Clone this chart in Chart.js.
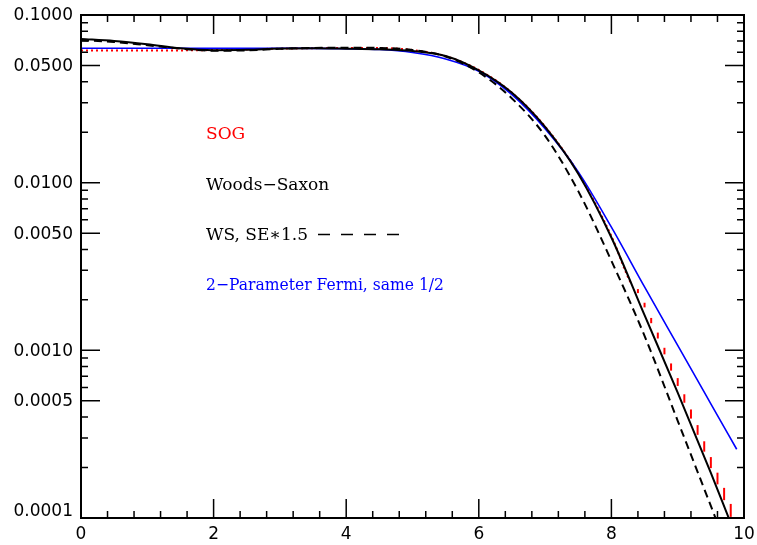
<!DOCTYPE html>
<html>
<head>
<meta charset="utf-8">
<script src="https://cdn.jsdelivr.net/npm/chart.js@4.4.0/dist/chart.umd.min.js"></script>
<style>
  body { margin: 0; background: #fff; }
</style>
</head>
<body>
<canvas id="chart" width="757" height="545"></canvas>
<script>
// axis ticks
const xTicks = [0, 2, 4, 6, 8, 10];
const yTicks = [0.1, 0.05, 0.01, 0.005, 0.001, 0.0005, 0.0001];
const yTickLabels = ["0.1000", "0.0500", "0.0100", "0.0050", "0.0010", "0.0005", "0.0001"];

// Woods-Saxon (solid black)
const wsX = [0, 0.5, 1, 1.5, 2, 2.5, 3, 3.5, 4, 4.5, 5, 5.5, 6, 6.5, 7, 7.5, 8, 8.5, 9, 9.5, 9.77];
const wsY = [0.0720, 0.0700, 0.0669, 0.0633, 0.0617, 0.0620, 0.0632, 0.0634, 0.0630, 0.0624, 0.0610, 0.0570, 0.0468, 0.0344, 0.0215, 0.0113, 0.00471, 0.00162, 0.00056, 0.000186, 0.0001];

// WS, SE*1.5 (dashed black)
const wsSeX = [0, 0.5, 1, 1.5, 2, 2.5, 3, 3.5, 4, 4.5, 5, 5.5, 6, 6.5, 7, 7.5, 8, 8.5, 9, 9.5, 9.57];
const wsSeY = [0.0707, 0.0690, 0.0660, 0.0630, 0.0612, 0.0615, 0.0628, 0.0636, 0.0638, 0.0636, 0.0618, 0.0565, 0.0455, 0.0318, 0.0190, 0.0089, 0.00342, 0.00122, 0.00038, 0.000118, 0.0001];

// 2-Parameter Fermi (blue)
const fermiX = [0, 1, 2, 3, 3.5, 4, 4.5, 5, 5.5, 6, 6.5, 7, 7.5, 8, 8.5, 9, 9.5, 9.89];
const fermiY = [0.0634, 0.0634, 0.0634, 0.0633, 0.0632, 0.0629, 0.0622, 0.0597, 0.0547, 0.0462, 0.0335, 0.0210, 0.0116, 0.00543, 0.00239, 0.00107, 0.00048, 0.000257];

// SOG (red dotted, sampled every 0.1 in the tail)
const sogX = [0, 1, 2, 3, 4, 4.5, 5, 5.5, 6, 6.5, 7, 7.5, 8, 8.3,
  8.4, 8.5, 8.6, 8.7, 8.8, 8.9, 9.0, 9.1, 9.2, 9.3, 9.4, 9.5, 9.6, 9.7, 9.8];
const sogY = [0.0614, 0.0614, 0.0618, 0.0630, 0.0636, 0.0635, 0.0618, 0.0568, 0.0470, 0.0344, 0.0216, 0.0114, 0.0048, 0.0025,
  0.002256, 0.001862, 0.001505, 0.001225, 0.000990, 0.000795, 0.000647, 0.000516, 0.000417, 0.000335, 0.000267, 0.000214, 0.000172, 0.000139, 0.000111];

const toPts = (xs, ys) => xs.map((x, i) => ({ x: x, y: ys[i] }));

// PGPLOT-style box, inward ticks on all four sides, tick labels and the legend text
const boxPlugin = {
  id: "box",
  afterDatasetsDraw(chart) {
    const { ctx, chartArea: a, scales } = chart;
    const xs = scales.x, ys = scales.y;
    ctx.save();
    ctx.strokeStyle = "#000";
    ctx.lineWidth = 2;
    ctx.strokeRect(a.left, a.top, a.right - a.left, a.bottom - a.top);
    ctx.lineWidth = 1.5;
    ctx.beginPath();
    for (let i = 0; i <= 25; i++) {
      const px = xs.getPixelForValue(i * 0.4);
      const len = (i % 5 === 0) ? 19 : 7;
      ctx.moveTo(px, a.bottom); ctx.lineTo(px, a.bottom - len);
      ctx.moveTo(px, a.top); ctx.lineTo(px, a.top + len);
    }
    [0.0001, 0.001, 0.01].forEach(d => {
      for (let k = 1; k <= 9; k++) {
        const py = ys.getPixelForValue(k * d);
        const len = (k === 1 || k === 5) ? 19 : 7;
        ctx.moveTo(a.left, py); ctx.lineTo(a.left + len, py);
        ctx.moveTo(a.right, py); ctx.lineTo(a.right - len, py);
      }
    });
    ctx.stroke();

    // tick labels
    ctx.fillStyle = "#000";
    ctx.font = "17px 'DejaVu Sans'";
    ctx.textAlign = "center";
    ctx.textBaseline = "middle";
    xTicks.forEach(v => ctx.fillText(String(v), xs.getPixelForValue(v), a.bottom + 17));
    ctx.textAlign = "right";
    yTicks.forEach((v, i) => {
      const shift = (v === ys.min) ? -6 : 1;
      ctx.fillText(yTickLabels[i], a.left - 8, ys.getPixelForValue(v) + shift);
    });
    ctx.restore();
  },
  afterDraw(chart) {
    const ctx = chart.ctx;
    ctx.save();
    ctx.font = "17px 'DejaVu Serif'";
    ctx.textBaseline = "alphabetic";
    ctx.fillStyle = "#ff0000";
    ctx.fillText("SOG", 206, 139);
    ctx.fillStyle = "#000";
    ctx.fillText("Woods\u2212Saxon", 206, 190, 127);
    ctx.fillText("WS, SE\u22171.5", 206, 240);
    ctx.strokeStyle = "#000";
    ctx.lineWidth = 1.5;
    ctx.setLineDash([12, 11]);
    ctx.beginPath();
    ctx.moveTo(318, 234.5); ctx.lineTo(400, 234.5);
    ctx.stroke();
    ctx.setLineDash([]);
    ctx.fillStyle = "#0000ff";
    ctx.fillText("2\u2212Parameter Fermi, same 1/2", 206, 290, 238);
    ctx.restore();
  }
};

new Chart(document.getElementById("chart"), {
  type: "line",
  data: {
    datasets: [
      {
        label: "SOG",
        data: toPts(sogX, sogY),
        borderColor: "#ff0000",
        borderWidth: 2,
        borderDash: [2, 3],
        pointStyle: "line",
        rotation: 90,
        pointBorderColor: "#ff0000",
        pointBorderWidth: 2,
        pointRadius: c => (c.raw && c.raw.x > 8.35) ? 2 + (c.raw.x - 8.4) * 3.2 : 0,
        segment: { borderColor: c => c.p0.parsed.x > 8.25 ? "transparent" : undefined },
        cubicInterpolationMode: "monotone",
        order: 4
      },
      {
        label: "2-Parameter Fermi, same 1/2",
        data: toPts(fermiX, fermiY),
        borderColor: "#0000ff",
        borderWidth: 1.6,
        pointRadius: 0,
        cubicInterpolationMode: "monotone",
        order: 3
      },
      {
        label: "WS, SE*1.5",
        data: toPts(wsSeX, wsSeY),
        borderColor: "#000",
        borderWidth: 2,
        borderDash: [8, 5],
        pointRadius: 0,
        cubicInterpolationMode: "monotone",
        order: 2
      },
      {
        label: "Woods-Saxon",
        data: toPts(wsX, wsY),
        borderColor: "#000",
        borderWidth: 2,
        pointRadius: 0,
        cubicInterpolationMode: "monotone",
        order: 1
      }
    ]
  },
  options: {
    responsive: false,
    animation: false,
    devicePixelRatio: 1,
    layout: { padding: { top: 15, right: 13, left: 81, bottom: 27 } },
    plugins: { legend: { display: false }, tooltip: { enabled: false } },
    scales: {
      x: { type: "linear", min: 0, max: 10, display: false },
      y: { type: "logarithmic", min: 0.0001, max: 0.1, display: false }
    }
  },
  plugins: [boxPlugin]
});
</script>
</body>
</html>
